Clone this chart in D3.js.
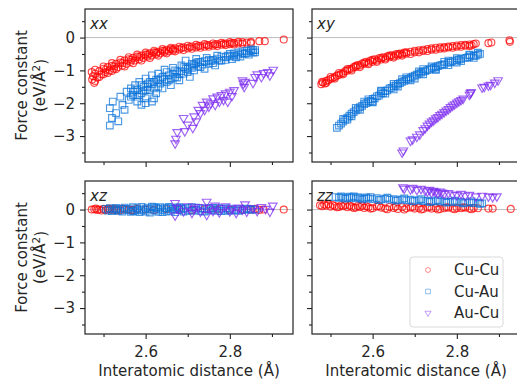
<!DOCTYPE html>
<html>
<head>
<meta charset="utf-8">
<script src="https://cdn.jsdelivr.net/npm/d3@7"></script>
<style>
  body { margin: 0; background: #fff; }
  text { font-family: "DejaVu Sans", sans-serif; fill: #262626; }
</style>
</head>
<body>
<svg id="chart"></svg>
<script>
// tick values and labels
const xTicks = [2.6, 2.8];
const xMinorTicks = [2.5, 2.7, 2.9];
const yTicks = [0, -1, -2, -3];
const yMinorTicks = [0.5, -0.5, -1.5, -2.5, -3.5];
const seriesNames = ["Cu-Cu", "Cu-Au", "Au-Cu"];
const panelNames = ["xx", "xy", "xz", "zz"];

// [interatomic distance (Å), force constant (eV/Å²)]
const xxCuCu = [[2.472,-1.05],[2.473,-1.28],[2.475,-1.18],[2.478,-1.38],[2.480,-1.10],[2.485,-1.22],[2.49,-1.02],[2.495,-1.12],
  [2.50,-0.95],[2.505,-1.05],[2.51,-0.90],[2.515,-1.00],[2.52,-0.86],[2.525,-0.95],[2.53,-0.80],[2.535,-0.90],[2.54,-0.76],
  [2.545,-0.85],[2.55,-0.70],[2.555,-0.80],[2.56,-0.66],[2.565,-0.74],[2.57,-0.62],[2.575,-0.70],[2.58,-0.58],[2.585,-0.66],
  [2.59,-0.55],[2.595,-0.62],[2.60,-0.52],[2.605,-0.58],[2.61,-0.48],[2.615,-0.55],[2.62,-0.45],[2.625,-0.51],[2.63,-0.43],
  [2.635,-0.48],[2.64,-0.40],[2.645,-0.45],[2.65,-0.37],[2.655,-0.42],[2.66,-0.35],[2.665,-0.40],[2.67,-0.33],[2.68,-0.36],
  [2.69,-0.30],[2.70,-0.33],[2.71,-0.27],[2.72,-0.30],[2.73,-0.25],[2.74,-0.28],[2.75,-0.23],[2.76,-0.25],[2.77,-0.20],
  [2.78,-0.22],[2.79,-0.18],[2.80,-0.20],[2.81,-0.16],[2.82,-0.18],[2.83,-0.14],[2.84,-0.15],[2.85,-0.13],[2.87,-0.11],
  [2.883,-0.11],[2.928,-0.06],
  [2.48,-0.98],[2.50,-0.88],[2.52,-0.78],[2.54,-0.68],[2.56,-0.60],[2.58,-0.52],[2.60,-0.46],[2.62,-0.40],[2.64,-0.35],
  [2.66,-0.31],[2.68,-0.28],[2.70,-0.25],[2.72,-0.22],[2.74,-0.20],[2.76,-0.18],[2.78,-0.16],[2.80,-0.14],[2.82,-0.13],
  [2.48,-1.32],[2.49,-1.20],[2.50,-1.12],[2.51,-1.08],[2.52,-1.02],[2.53,-0.96],[2.55,-0.88],[2.57,-0.78],[2.59,-0.70],
  [2.61,-0.62],[2.63,-0.55],[2.65,-0.48],[2.67,-0.42],[2.69,-0.38],[2.71,-0.34],[2.73,-0.31],[2.75,-0.28],[2.77,-0.26],
  [2.79,-0.23],[2.81,-0.21],[2.83,-0.19],[2.85,-0.17],
  [2.505,-0.98],[2.525,-0.88],[2.545,-0.78],[2.565,-0.68],[2.585,-0.60],[2.605,-0.52],[2.625,-0.46],[2.645,-0.40],
  [2.665,-0.36],[2.685,-0.32],[2.705,-0.29],[2.725,-0.26],[2.745,-0.23],[2.765,-0.21],[2.785,-0.19],[2.805,-0.17]];
const xxCuAu = [[2.515,-2.15],[2.515,-2.68],[2.52,-2.45],[2.522,-1.95],[2.53,-2.3],[2.535,-2.55],[2.54,-1.8],[2.545,-2.05],
  [2.55,-2.2],[2.555,-1.65],[2.56,-1.9],[2.565,-1.55],[2.57,-1.75],[2.575,-1.45],[2.58,-1.95],[2.58,-1.6],[2.585,-1.35],
  [2.59,-1.7],[2.595,-1.5],[2.60,-1.25],[2.60,-1.85],[2.605,-1.4],[2.61,-1.6],[2.615,-1.15],[2.615,-1.95],[2.62,-1.35],
  [2.625,-1.7],[2.63,-1.1],[2.63,-1.5],[2.635,-1.25],[2.64,-1.55],[2.645,-0.98],[2.65,-1.35],[2.655,-1.15],[2.66,-1.45],
  [2.665,-0.92],[2.67,-1.2],[2.675,-1.05],[2.68,-1.3],[2.685,-0.85],[2.69,-1.1],[2.695,-0.7],[2.70,-0.95],[2.705,-1.2],
  [2.71,-0.8],[2.715,-1.0],[2.72,-0.65],[2.725,-0.88],[2.73,-0.75],[2.74,-0.95],[2.745,-0.62],[2.75,-0.8],[2.76,-0.68],
  [2.765,-0.85],[2.77,-0.55],[2.78,-0.7],[2.79,-0.6],[2.80,-0.5],[2.805,-0.66],[2.81,-0.55],[2.82,-0.45],[2.825,-0.58],
  [2.83,-0.48],[2.84,-0.4],[2.845,-0.52],[2.85,-0.42],[2.855,-0.38],[2.86,-0.45],
  [2.57,-1.65],[2.58,-1.8],[2.59,-1.45],[2.60,-1.6],[2.61,-1.35],[2.62,-1.55],[2.63,-1.3],[2.64,-1.2],[2.65,-1.05],
  [2.66,-1.25],[2.67,-1.0],[2.68,-1.12],[2.69,-0.9],[2.70,-1.05],[2.71,-0.92],[2.72,-0.78],[2.73,-0.9],[2.74,-0.72],
  [2.75,-0.68],[2.76,-0.78],[2.77,-0.64],[2.78,-0.58],[2.79,-0.68],[2.80,-0.58],[2.81,-0.48],[2.82,-0.52],[2.83,-0.42],
  [2.84,-0.47],[2.85,-0.36],[2.86,-0.38],[2.60,-2.0],[2.59,-2.05],[2.62,-1.85],
  [2.565,-1.8],[2.575,-1.6],[2.585,-1.75],[2.595,-1.62],[2.605,-1.5],[2.615,-1.42],[2.625,-1.28],[2.635,-1.4],
  [2.645,-1.28],[2.655,-1.3],[2.665,-1.1],[2.675,-1.22],[2.685,-1.02],[2.695,-0.95],[2.705,-0.88],[2.715,-0.82],
  [2.725,-0.74],[2.735,-0.82],[2.755,-0.72],[2.775,-0.7],[2.795,-0.55],[2.815,-0.6],[2.835,-0.5],[2.855,-0.46]];
const xxAuCu = [[2.670,-3.22],[2.672,-3.08],[2.675,-2.88],[2.69,-2.45],[2.693,-2.85],[2.70,-2.65],[2.712,-2.75],[2.715,-2.4],
  [2.72,-2.55],[2.725,-2.2],[2.73,-2.3],[2.735,-2.05],[2.74,-2.2],[2.745,-1.95],[2.75,-2.1],[2.755,-2.0],[2.76,-1.85],
  [2.765,-2.05],[2.77,-1.8],[2.775,-1.95],[2.78,-1.75],[2.785,-1.9],[2.79,-1.7],[2.795,-1.95],[2.80,-1.65],[2.805,-1.78],
  [2.81,-1.6],[2.83,-1.3],[2.832,-1.4],[2.834,-1.5],[2.836,-1.35],[2.855,-1.38],[2.86,-1.2],[2.865,-1.12],[2.875,-1.2],
  [2.88,-1.08],[2.89,-1.05],[2.895,-1.15],[2.903,-0.98]];

const xyCuCu = [[2.478,-1.42],[2.482,-1.37],[2.487,-1.40],[2.49,-1.32],[2.495,-1.30],[2.50,-1.26],[2.505,-1.23],[2.51,-1.20],
  [2.515,-1.16],[2.52,-1.14],[2.525,-1.10],[2.53,-1.08],[2.535,-1.02],[2.54,-1.01],[2.545,-0.96],[2.55,-0.95],[2.555,-0.90],
  [2.56,-0.90],[2.565,-0.84],[2.57,-0.85],[2.575,-0.79],[2.58,-0.80],[2.585,-0.74],[2.59,-0.77],[2.595,-0.70],[2.60,-0.74],
  [2.605,-0.66],[2.61,-0.70],[2.615,-0.63],[2.62,-0.67],[2.625,-0.60],[2.63,-0.63],[2.635,-0.57],[2.64,-0.60],[2.645,-0.54],
  [2.65,-0.57],[2.655,-0.51],[2.66,-0.55],[2.665,-0.49],[2.67,-0.51],[2.675,-0.46],[2.68,-0.49],[2.69,-0.43],[2.70,-0.45],
  [2.71,-0.39],[2.72,-0.41],[2.73,-0.35],[2.74,-0.37],[2.75,-0.31],[2.76,-0.34],[2.77,-0.29],[2.78,-0.30],[2.79,-0.26],
  [2.80,-0.28],[2.81,-0.23],[2.82,-0.25],[2.83,-0.21],[2.835,-0.24],[2.84,-0.20],[2.845,-0.18],[2.875,-0.17],[2.882,-0.15],
  [2.925,-0.08],[2.926,-0.13],
  [2.48,-1.35],[2.50,-1.20],[2.52,-1.08],[2.54,-0.96],[2.56,-0.86],[2.58,-0.76],[2.60,-0.68],[2.62,-0.62],[2.64,-0.55],
  [2.66,-0.50],[2.68,-0.45],[2.70,-0.40],[2.72,-0.37],[2.74,-0.33],[2.76,-0.30],[2.78,-0.27],[2.80,-0.24],[2.82,-0.22],
  [2.49,-1.38],[2.51,-1.25],[2.53,-1.12],[2.55,-1.00],[2.57,-0.90],[2.59,-0.81],[2.61,-0.74],[2.63,-0.67],[2.65,-0.61],
  [2.67,-0.55],[2.69,-0.50],[2.71,-0.45],[2.73,-0.41],[2.75,-0.37],[2.77,-0.33],[2.79,-0.31],[2.81,-0.28],[2.83,-0.26]];
const xyCuAu = [[2.515,-2.75],[2.52,-2.68],[2.525,-2.62],[2.53,-2.56],[2.535,-2.50],[2.54,-2.44],[2.545,-2.38],[2.55,-2.32],
  [2.55,-2.40],[2.555,-2.27],[2.56,-2.22],[2.565,-2.17],[2.57,-2.12],[2.575,-2.08],[2.58,-2.03],[2.58,-1.95],[2.585,-2.00],
  [2.59,-1.95],[2.595,-1.93],[2.60,-1.87],[2.60,-1.97],[2.605,-1.85],[2.61,-1.79],[2.615,-1.77],[2.62,-1.71],[2.62,-1.62],
  [2.625,-1.69],[2.63,-1.63],[2.635,-1.61],[2.64,-1.55],[2.645,-1.53],[2.65,-1.48],[2.65,-1.58],[2.655,-1.46],[2.66,-1.41],
  [2.665,-1.39],[2.67,-1.35],[2.67,-1.27],[2.675,-1.32],[2.68,-1.28],[2.685,-1.26],[2.69,-1.22],[2.695,-1.19],[2.70,-1.16],
  [2.70,-1.25],[2.705,-1.13],[2.71,-1.10],[2.715,-1.07],[2.72,-1.04],[2.72,-0.96],[2.725,-1.02],[2.73,-0.99],[2.735,-0.97],
  [2.74,-0.94],[2.745,-0.92],[2.75,-0.90],[2.75,-0.98],[2.755,-0.87],[2.76,-0.85],[2.765,-0.83],[2.77,-0.81],[2.78,-0.77],
  [2.78,-0.70],[2.785,-0.75],[2.79,-0.72],[2.80,-0.69],[2.80,-0.76],[2.805,-0.67],[2.81,-0.65],[2.82,-0.62],[2.825,-0.61],
  [2.83,-0.59],[2.83,-0.52],[2.84,-0.56],[2.845,-0.55],[2.85,-0.52],[2.855,-0.50],
  [2.53,-2.48],[2.56,-2.14],[2.59,-1.88],[2.62,-1.64],[2.65,-1.41],[2.68,-1.21],[2.71,-1.03],[2.74,-0.88],[2.77,-0.74],
  [2.80,-0.63],[2.83,-0.54],[2.85,-0.46],[2.54,-2.50],[2.57,-2.20],[2.60,-1.95],[2.63,-1.71],[2.66,-1.49],[2.69,-1.30],
  [2.72,-1.12],[2.75,-0.97],[2.78,-0.84],[2.81,-0.72],[2.84,-0.62]];
const xyAuCu = [[2.670,-3.50],[2.673,-3.44],[2.69,-3.14],[2.695,-3.10],[2.705,-3.02],[2.712,-2.95],[2.72,-2.82],[2.725,-2.76],
  [2.73,-2.68],[2.735,-2.62],[2.74,-2.56],[2.745,-2.52],[2.75,-2.46],[2.755,-2.42],[2.76,-2.36],[2.765,-2.32],[2.77,-2.27],
  [2.775,-2.22],[2.78,-2.18],[2.785,-2.12],[2.79,-2.07],[2.795,-2.03],[2.80,-1.98],[2.805,-1.94],[2.81,-1.90],[2.815,-1.86],
  [2.83,-1.74],[2.832,-1.69],[2.834,-1.66],[2.86,-1.52],[2.865,-1.50],[2.875,-1.46],[2.88,-1.44],[2.89,-1.37],[2.898,-1.30]];

const xzCuCu = [[2.472,0.00],[2.478,0.01],[2.485,-0.01],[2.49,0.00],[2.50,0.02],[2.505,-0.02],[2.51,0.00],[2.515,0.01],
  [2.52,-0.01],[2.525,0.02],[2.53,0.00],[2.54,-0.02],[2.55,0.01],[2.56,0.00],[2.57,-0.01],[2.58,0.02],[2.60,0.00],[2.62,-0.01],
  [2.65,0.01],[2.68,0.00],[2.71,-0.01],[2.74,0.01],[2.77,0.00],[2.80,-0.01],[2.83,0.01],[2.85,0.00],[2.86,0.02],[2.87,-0.01],
  [2.88,0.00],[2.928,0.00],[2.482,0.03],[2.495,-0.03],[2.512,0.03],[2.532,-0.03],[2.545,0.03],[2.565,-0.02]];
const xzCuAu = [[2.505,0.02],[2.51,-0.03],[2.515,0.04],[2.52,-0.05],[2.525,0.01],[2.53,0.05],[2.535,-0.04],[2.54,0.02],
  [2.545,-0.06],[2.55,0.06],[2.555,-0.02],[2.56,0.03],[2.565,-0.07],[2.57,0.07],[2.575,-0.03],[2.58,0.04],[2.585,-0.08],
  [2.59,0.08],[2.595,0.00],[2.60,-0.06],[2.605,0.06],[2.61,-0.09],[2.615,0.09],[2.62,-0.03],[2.625,0.05],[2.63,-0.07],
  [2.635,0.07],[2.64,-0.02],[2.645,0.04],[2.65,-0.06],[2.655,0.08],[2.66,-0.04],[2.665,0.02],[2.67,-0.08],[2.675,0.06],
  [2.68,-0.02],[2.685,0.04],[2.69,-0.06],[2.70,0.05],[2.71,-0.04],[2.72,0.06],[2.73,-0.05],[2.74,0.03],[2.75,-0.03],
  [2.76,0.04],[2.77,-0.04],[2.78,0.02],[2.79,-0.03],[2.80,0.03],[2.81,-0.02],[2.82,0.02],[2.83,-0.02],[2.84,0.01],
  [2.85,-0.01],[2.86,0.00],
  [2.53,-0.01],[2.55,0.02],[2.57,-0.05],[2.58,0.00],[2.59,-0.03],[2.60,0.03],[2.61,0.01],[2.62,0.07],[2.63,0.02],
  [2.64,-0.08],[2.65,0.03],[2.66,0.06],[2.67,0.01],[2.68,0.07],[2.69,0.02],[2.70,-0.03],[2.71,0.07],[2.72,-0.01],
  [2.73,0.04],[2.74,-0.06],[2.75,0.05],[2.76,-0.01],[2.77,0.05],[2.78,-0.05],[2.79,0.04],[2.80,-0.04],[2.82,-0.04],
  [2.84,0.03],[2.85,0.02]];
const xzAuCu = [[2.670,0.20],[2.670,-0.18],[2.675,0.05],[2.69,-0.05],[2.70,0.10],[2.71,-0.10],[2.715,0.03],[2.725,0.08],
  [2.73,-0.06],[2.745,0.24],[2.745,-0.16],[2.75,0.05],[2.76,-0.04],[2.765,0.12],[2.775,-0.08],[2.78,0.04],[2.79,0.10],
  [2.80,-0.05],[2.805,0.03],[2.815,-0.10],[2.82,0.06],[2.83,0.00],[2.836,0.16],[2.84,-0.06],[2.855,0.04],[2.865,-0.04],
  [2.875,0.08],[2.885,0.02],[2.895,-0.06],[2.902,0.12]];

const zzCuCu = [[2.475,0.13],[2.48,0.10],[2.485,0.15],[2.49,0.12],[2.50,0.09],[2.505,0.14],[2.51,0.11],[2.52,0.08],
  [2.525,0.13],[2.53,0.10],[2.54,0.07],[2.545,0.12],[2.55,0.09],[2.56,0.06],[2.565,0.11],[2.57,0.08],[2.58,0.05],[2.585,0.10],
  [2.59,0.07],[2.60,0.04],[2.61,0.09],[2.62,0.06],[2.63,0.03],[2.64,0.08],[2.65,0.05],[2.66,0.02],[2.67,0.07],[2.68,0.04],
  [2.69,0.06],[2.70,0.03],[2.71,0.05],[2.72,0.02],[2.73,0.06],[2.74,0.03],[2.75,0.05],[2.76,0.02],[2.77,0.04],[2.78,0.06],
  [2.79,0.03],[2.80,0.05],[2.81,0.04],[2.82,0.06],[2.83,0.03],[2.84,0.05],[2.85,0.04],[2.875,0.03],[2.885,0.03],[2.928,0.02],
  [2.495,0.16],[2.515,0.07],[2.535,0.14],[2.555,0.05],[2.575,0.12],[2.595,0.03],[2.615,0.11],[2.635,0.01],[2.655,0.09],
  [2.675,0.00],[2.695,0.08],[2.715,0.00],[2.735,0.08],[2.755,0.00],[2.775,0.07],[2.795,0.01],[2.815,0.07],[2.835,0.01]];
const zzCuAu = [[2.512,0.38],[2.52,0.36],[2.525,0.40],[2.53,0.37],[2.54,0.35],[2.545,0.39],[2.55,0.36],[2.56,0.34],
  [2.565,0.38],[2.57,0.35],[2.58,0.33],[2.585,0.37],[2.59,0.34],[2.60,0.32],[2.61,0.35],[2.62,0.31],[2.63,0.33],[2.64,0.30],
  [2.65,0.32],[2.66,0.29],[2.67,0.31],[2.68,0.28],[2.69,0.30],[2.70,0.27],[2.71,0.29],[2.72,0.26],[2.73,0.27],[2.74,0.25],
  [2.75,0.26],[2.76,0.24],[2.77,0.25],[2.78,0.23],[2.79,0.24],[2.80,0.22],[2.81,0.23],[2.82,0.21],[2.83,0.22],[2.84,0.20],
  [2.85,0.21],[2.86,0.19],
  [2.535,0.33],[2.555,0.40],[2.575,0.31],[2.595,0.38],[2.615,0.29],[2.635,0.36],[2.655,0.27],[2.675,0.34],[2.695,0.25],
  [2.715,0.32],[2.735,0.23],[2.755,0.29],[2.775,0.21],[2.795,0.27],[2.815,0.19],[2.835,0.25],[2.855,0.17]];
const zzAuCu = [[2.672,0.68],[2.675,0.64],[2.69,0.62],[2.695,0.66],[2.705,0.60],[2.715,0.63],[2.725,0.58],[2.73,0.55],
  [2.735,0.60],[2.74,0.52],[2.745,0.57],[2.75,0.54],[2.755,0.50],[2.76,0.55],[2.765,0.52],[2.77,0.48],[2.78,0.50],[2.79,0.46],
  [2.80,0.44],[2.81,0.48],[2.82,0.42],[2.83,0.45],[2.845,0.40],[2.86,0.42],[2.875,0.40],[2.885,0.38],[2.895,0.40]];

// set the dimensions of the figure and the panel grid
const width = 517, height = 384;
const panelW = 208, panelH = 153;
const colors = ["#ff0000", "#0a72d8", "#7a28f0"];
const symbols = [d3.symbolCircle, d3.symbolSquare, d3.symbolTriangle];
const symbolSizes = [38, 44, 32];

const panels = [
  { name: panelNames[0], left: 85, top: 9, series: [xxCuCu, xxCuAu, xxAuCu], first: true, bottom: false },
  { name: panelNames[1], left: 312, top: 9, series: [xyCuCu, xyCuAu, xyAuCu], first: false, bottom: false },
  { name: panelNames[2], left: 85, top: 181, series: [xzCuCu, xzCuAu, xzAuCu], first: true, bottom: true },
  { name: panelNames[3], left: 312, top: 181, series: [zzCuCu, zzCuAu, zzAuCu], first: false, bottom: true }
];

const x = d3.scaleLinear().domain([2.456, 2.950]).range([0, panelW]);
const y = d3.scaleLinear().domain([-3.79, 0.87]).range([panelH, 0]);

const svg = d3.select("#chart")
  .attr("width", width)
  .attr("height", height);

svg.append("defs").append("clipPath").attr("id", "panel-clip")
  .append("rect").attr("width", panelW).attr("height", panelH);

panels.forEach(function (p) {
  const g = svg.append("g")
    .attr("transform", "translate(" + p.left + "," + p.top + ")");

  // zero line
  g.append("line")
    .attr("x1", 0).attr("x2", panelW)
    .attr("y1", y(0)).attr("y2", y(0))
    .attr("stroke", "#bdbdbd")
    .attr("stroke-width", 1);

  // scatter points
  const plot = g.append("g").attr("clip-path", "url(#panel-clip)");
  p.series.forEach(function (data, i) {
    plot.selectAll(null)
      .data(data)
      .join("path")
      .attr("d", d3.symbol().type(symbols[i]).size(symbolSizes[i])())
      .attr("transform", d => "translate(" + x(d[0]) + "," + y(d[1]) + ")" + (i === 2 ? " rotate(180)" : ""))
      .attr("fill", "none")
      .attr("stroke", colors[i])
      .attr("stroke-width", 1.15)
      .attr("stroke-opacity", 0.72);
  });

  // y axis, major and minor ticks
  g.append("g")
    .call(d3.axisLeft(y).tickValues(yTicks).tickSize(5).tickPadding(5)
      .tickFormat(d => p.first ? String(d).replace("-", "\u2212") : ""));
  g.append("g")
    .call(d3.axisLeft(y).tickValues(yMinorTicks).tickSize(3).tickFormat(""));

  // x axis, major and minor ticks
  g.append("g")
    .attr("transform", "translate(0," + panelH + ")")
    .call(d3.axisBottom(x).tickValues(xTicks).tickSize(5).tickPadding(7.5)
      .tickFormat(d => p.bottom ? d3.format(".1f")(d) : ""));
  g.append("g")
    .attr("transform", "translate(0," + panelH + ")")
    .call(d3.axisBottom(x).tickValues(xMinorTicks).tickSize(3).tickFormat(""));

  g.selectAll(".domain").remove();
  g.selectAll(".tick line").attr("stroke", "#222").attr("stroke-width", 1.1);
  g.selectAll(".tick text").style("font-size", "15px").style("font-family", "DejaVu Sans").attr("fill", "#262626");

  // frame
  g.append("rect")
    .attr("width", panelW).attr("height", panelH)
    .attr("fill", "none")
    .attr("stroke", "#222")
    .attr("stroke-width", 1.2);

  // panel label
  g.append("text")
    .attr("x", 5).attr("y", 19.5)
    .style("font-size", "15px")
    .style("font-style", "italic")
    .text(p.name);

  // y label
  if (p.first) {
    svg.append("text")
      .attr("transform", "translate(27," + (p.top + panelH / 2) + ") rotate(-90)")
      .style("text-anchor", "middle")
      .style("font-size", "15px")
      .text("Force constant");
    const lab = svg.append("text")
      .attr("transform", "translate(44.5," + (p.top + panelH / 2) + ") rotate(-90)")
      .style("text-anchor", "middle")
      .style("font-size", "15px");
    lab.append("tspan").text("(eV/Å");
    lab.append("tspan").attr("dy", "-0.4em").style("font-size", "10.5px").text("2");
    lab.append("tspan").attr("dy", "0.4em").text(")");
  }

  // x label
  if (p.bottom) {
    svg.append("text")
      .attr("x", p.left + panelW / 2)
      .attr("y", 376)
      .style("text-anchor", "middle")
      .style("font-size", "15px")
      .text("Interatomic distance (Å)");
  }
});

// Handmade legend in the zz panel
const legend = svg.append("g").attr("transform", "translate(410,257)");
legend.append("rect")
  .attr("width", 93).attr("height", 70).attr("rx", 3)
  .attr("fill", "#fff").attr("fill-opacity", 0.8)
  .attr("stroke", "#d9d9d9").attr("stroke-width", 1);
seriesNames.forEach(function (name, i) {
  const cy = 13 + i * 21.5;
  legend.append("path")
    .attr("d", d3.symbol().type(symbols[i]).size(symbolSizes[i] * 0.5)())
    .attr("transform", "translate(18," + cy + ")" + (i === 2 ? " rotate(180)" : ""))
    .attr("fill", "none")
    .attr("stroke", colors[i])
    .attr("stroke-opacity", 0.45)
    .attr("stroke-width", 1);
  legend.append("text")
    .attr("x", 44).attr("y", cy)
    .attr("dy", "0.36em")
    .style("font-size", "15px")
    .text(name);
});
</script>
</body>
</html>
